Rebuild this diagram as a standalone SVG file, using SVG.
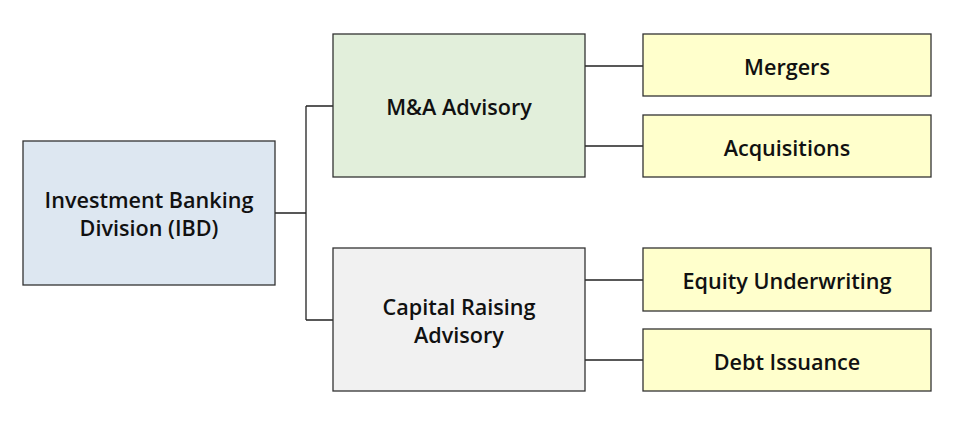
<svg xmlns="http://www.w3.org/2000/svg" width="960" height="425" viewBox="0 0 960 425">
<style>
.box{stroke:#333;stroke-width:1.3}
.t{font-family:"Open Sans","Noto Sans","Liberation Sans",sans-serif;font-weight:600;font-size:21.6px;fill:#111;text-anchor:middle;dominant-baseline:central}
.c{fill:none;stroke:#222;stroke-width:1.3}
.leaf{fill:#ffffcc}
</style>
<rect width="960" height="425" fill="#fff"/>
<g id="connectors">
<path class="c" d="M275 213H306M306 106V320M306 106H333M306 320H333"/>
<path class="c" d="M585 66H643M585 146H643M585 280H643M585 360H643"/>
</g>
<g id="ibd"><rect class="box" x="23" y="141" width="252" height="144" fill="#dde7f1"/><text class="t" x="149" y="199">Investment Banking</text><text class="t" x="149" y="227">Division (IBD)</text></g>
<g id="ma"><rect class="box" x="333" y="34" width="252" height="143" fill="#e2efdb"/><text class="t" x="459" y="106">M&amp;A Advisory</text></g>
<g id="capital"><rect class="box" x="333" y="248" width="252" height="143" fill="#f1f1f1"/><text class="t" x="459" y="306">Capital Raising</text><text class="t" x="459" y="334">Advisory</text></g>
<g id="mergers"><rect class="box leaf" x="643" y="34" width="288" height="62"/><text class="t" x="787" y="66">Mergers</text></g>
<g id="acquisitions"><rect class="box leaf" x="643" y="115" width="288" height="62"/><text class="t" x="787" y="147">Acquisitions</text></g>
<g id="equity"><rect class="box leaf" x="643" y="248" width="288" height="63"/><text class="t" x="787" y="280">Equity Underwriting</text></g>
<g id="debt"><rect class="box leaf" x="643" y="329" width="288" height="62"/><text class="t" x="787" y="361">Debt Issuance</text></g>
</svg>
